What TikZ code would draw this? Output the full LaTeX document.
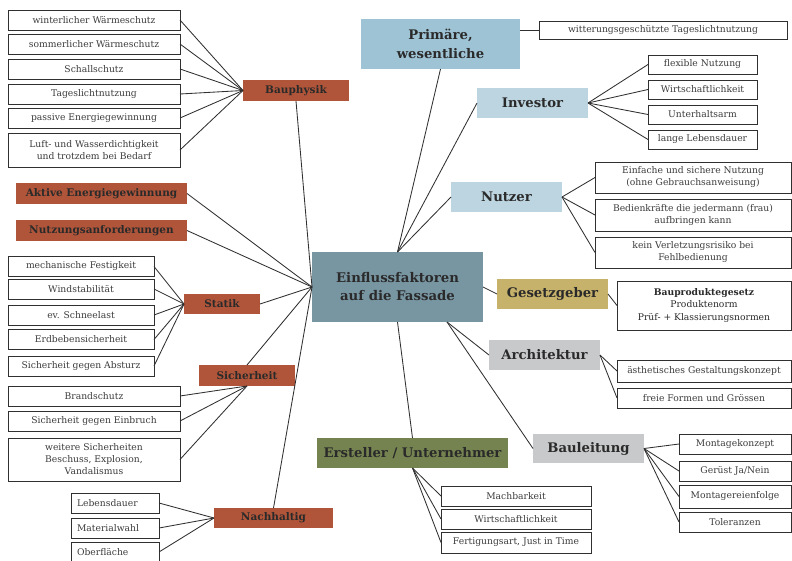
\documentclass[tikz,border=0pt]{standalone}
\usepackage{fontspec}
\setmainfont{DejaVu Serif}
\usetikzlibrary{calc}

\definecolor{rust}{HTML}{B0553A}
\definecolor{hub}{HTML}{7895A2}
\definecolor{skyA}{HTML}{9EC3D5}
\definecolor{skyB}{HTML}{BCD5E1}
\definecolor{ochre}{HTML}{C6B26A}
\definecolor{stone}{HTML}{C8C9CB}
\definecolor{olive}{HTML}{758350}
\definecolor{ink}{HTML}{2A2A2A}
\definecolor{leafink}{HTML}{3C3C3C}
\definecolor{rim}{HTML}{303030}

\tikzset{
  every node/.style={inner sep=0pt, outer sep=0pt},
  bx/.style 2 args={minimum width=#1pt, minimum height=#2pt},
  leaf/.style={draw=rim, line width=1pt, fill=white, text=leafink,
    align=center, font=\fontsize{9.2}{12}\selectfont},
  cat/.style={fill=rust, text=ink, align=center,
    font=\bfseries\fontsize{10.5}{12}\selectfont},
  big/.style={text=ink, align=center,
    font=\bfseries\fontsize{13.2}{19}\selectfont},
  link/.style={draw=rim, line width=0.85pt},
}

\begin{document}
\begin{tikzpicture}[x=1pt, y=-1pt]
\useasboundingbox (0,0) rectangle (792,560);

% ---------- hub ----------
\node[big, fill=hub, bx={171}{70}, font=\bfseries\fontsize{13.3}{18}\selectfont] (c) at (397.5,287) {Einflussfaktoren\\auf die Fassade};

% ---------- Bauphysik ----------
\node[cat, bx={106}{21}] (bau) at (296,90.5) {Bauphysik};
\node[leaf, bx={172}{20}] (b1) at (94,20)  {winterlicher Wärmeschutz};
\node[leaf, bx={172}{20}] (b2) at (94,44)  {sommerlicher Wärmeschutz};
\node[leaf, bx={172}{20}] (b3) at (94,69)  {Schallschutz};
\node[leaf, bx={172}{20}] (b4) at (94,94)  {Tageslichtnutzung};
\node[leaf, bx={172}{20}] (b5) at (94,118) {passive Energiegewinnung};
\node[leaf, bx={172}{34}] (b6) at (94,150) {Luft- und Wasserdichtigkeit\\und trotzdem bei Bedarf};
\foreach \n in {b1,b2,b3,b4,b5,b6} \draw[link] (\n.east) -- (bau.west);
\draw[link] (bau.south) -- (c.west);

% ---------- single categories ----------
\node[cat, bx={171}{21}] (akt) at (101.5,193.5) {Aktive Energiegewinnung};
\node[cat, bx={171}{21}] (nza) at (101.5,230.5) {Nutzungsanforderungen};
\draw[link] (akt.east) -- (c.west);
\draw[link] (nza.east) -- (c.west);

% ---------- Statik ----------
\node[cat, bx={76}{20}] (sta) at (222,304) {Statik};
\node[leaf, bx={146}{20}] (s1) at (81,266.5) {mechanische Festigkeit};
\node[leaf, bx={146}{20}] (s2) at (81,289)   {Windstabilität};
\node[leaf, bx={146}{20}] (s3) at (81,315)   {ev. Schneelast};
\node[leaf, bx={146}{20}] (s4) at (81,339.5) {Erdbebensicherheit};
\node[leaf, bx={146}{20}] (s5) at (81,366)   {Sicherheit gegen Absturz};
\foreach \n in {s1,s2,s3,s4,s5} \draw[link] (\n.east) -- (sta.west);
\draw[link] (sta.east) -- (c.west);

% ---------- Sicherheit ----------
\node[cat, bx={96}{21}] (sic) at (247,375.5) {Sicherheit};
\node[leaf, bx={172}{20}] (k1) at (94,396) {Brandschutz};
\node[leaf, bx={172}{20}] (k2) at (94,421) {Sicherheit gegen Einbruch};
\node[leaf, bx={172}{43}] (k3) at (94,459.5) {weitere Sicherheiten\\Beschuss, Explosion,\\Vandalismus};
\foreach \n in {k1,k2,k3} \draw[link] (\n.east) -- (sic.south);
\draw[link] (sic.north) -- (c.west);

% ---------- Nachhaltig ----------
\node[cat, bx={119}{20}] (nach) at (273.5,518) {Nachhaltig};
\node[leaf, bx={88}{20}, text width=76pt, align=left] (n1) at (115,503) {Lebensdauer};
\node[leaf, bx={88}{20}, text width=76pt, align=left] (n2) at (115,528) {Materialwahl};
\node[leaf, bx={88}{20}, text width=76pt, align=left] (n3) at (115,552) {Oberfläche};
\foreach \n in {n1,n2,n3} \draw[link] (\n.east) -- (nach.west);
\draw[link] (nach.north) -- (c.west);

% ---------- Primäre, wesentliche ----------
\node[big, fill=skyA, bx={159}{50}] (prim) at (440.5,44) {Primäre,\\wesentliche};
\node[leaf, bx={248}{18}] (witt) at (663,30) {witterungsgeschützte Tageslichtnutzung};
\draw[link] (witt.west) -- (witt.west -| prim.east);
\draw[link] (prim.south) -- (c.north);

% ---------- Investor ----------
\node[big, fill=skyB, bx={111}{30}] (inv) at (532.5,103) {Investor};
\node[leaf, bx={109}{19}] (i1) at (702.5,64.5)  {flexible Nutzung};
\node[leaf, bx={109}{19}] (i2) at (702.5,89.5)  {Wirtschaftlichkeit};
\node[leaf, bx={109}{19}] (i3) at (702.5,114.5) {Unterhaltsarm};
\node[leaf, bx={109}{19}] (i4) at (702.5,139.5) {lange Lebensdauer};
\foreach \n in {i1,i2,i3,i4} \draw[link] (inv.east) -- (\n.west);
\draw[link] (inv.west) -- (c.north);

% ---------- Nutzer ----------
\node[big, fill=skyB, bx={111}{30}] (nut) at (506.5,197) {Nutzer};
\node[leaf, bx={196}{31}] (u1) at (693,177.5) {Einfache und sichere Nutzung\\(ohne Gebrauchsanweisung)};
\node[leaf, bx={196}{32}] (u2) at (693,215)   {Bedienkräfte die jedermann (frau)\\aufbringen kann};
\node[leaf, bx={196}{31}] (u3) at (693,252.5) {kein Verletzungsrisiko bei\\Fehlbedienung};
\foreach \n in {u1,u2,u3} \draw[link] (nut.east) -- (\n.west);
\draw[link] (nut.west) -- (c.north);

% ---------- Gesetzgeber ----------
\node[big, fill=ochre, bx={111}{30}] (ges) at (552.5,294) {Gesetzgeber};
\node[leaf, bx={174}{49}, text=ink, font=\fontsize{9.2}{12.5}\selectfont] (gbox) at (704,305.5) {\textbf{Bauproduktegesetz}\\Produktenorm\\Prüf- + Klassierungsnormen};
\draw[link] (c.east) -- (ges.west);
\draw[link] (ges.east) -- (gbox.west);

% ---------- Architektur ----------
\coordinate (cse) at ([xshift=49.5pt]c.south);
\node[big, fill=stone, bx={111}{30}] (arch) at (544.5,355) {Architektur};
\node[leaf, bx={174}{22}] (a1) at (704,371) {ästhetisches Gestaltungskonzept};
\node[leaf, bx={174}{20}] (a2) at (704,398) {freie Formen und Grössen};
\foreach \n in {a1,a2} \draw[link] (arch.east) -- (\n.west);
\draw[link] (cse) -- (arch.west);

% ---------- Bauleitung ----------
\node[big, fill=stone, bx={111}{29}] (bl) at (588.5,448.5) {Bauleitung};
\node[leaf, bx={112}{20}] (l1) at (735,444)   {Montagekonzept};
\node[leaf, bx={112}{20}] (l2) at (735,471)   {Gerüst Ja/Nein};
\node[leaf, bx={112}{23}] (l3) at (735,496.5) {Montagereienfolge};
\node[leaf, bx={112}{20}] (l4) at (735,522)   {Toleranzen};
\foreach \n in {l1,l2,l3,l4} \draw[link] (bl.east) -- (\n.west);
\draw[link] (cse) -- (bl.west);

% ---------- Ersteller / Unternehmer ----------
\node[big, fill=olive, bx={191}{30}] (ers) at (412.5,453) {Ersteller / Unternehmer};
\node[leaf, bx={150}{20}] (e1) at (516,496)   {Machbarkeit};
\node[leaf, bx={150}{20}] (e2) at (516,519)   {Wirtschaftlichkeit};
\node[leaf, bx={150}{21}] (e3) at (516,542.5) {Fertigungsart, Just in Time};
\foreach \n in {e1,e2,e3} \draw[link] (ers.south) -- (\n.west);
\draw[link] (c.south) -- (ers.north);

\end{tikzpicture}
\end{document}
